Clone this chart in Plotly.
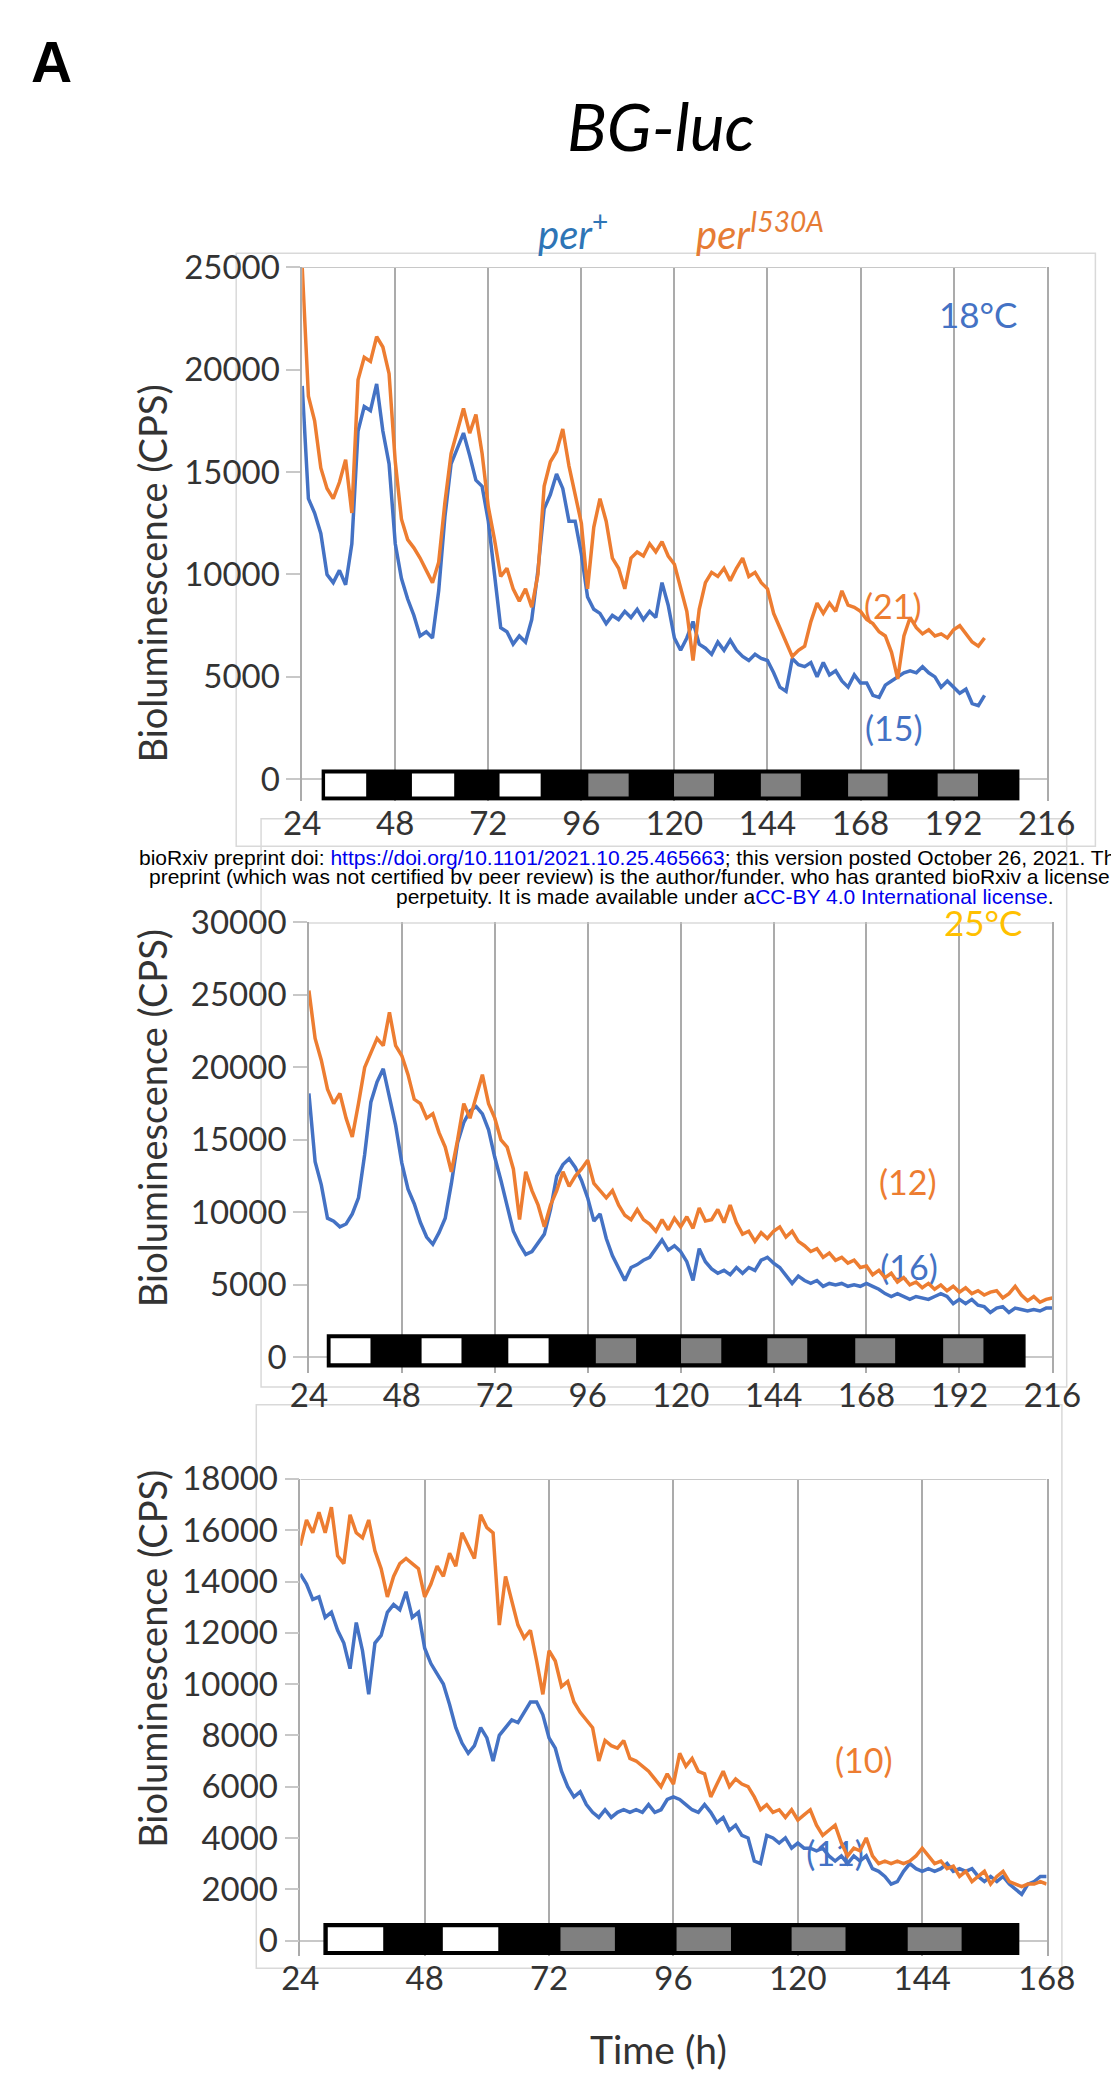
import numpy as np
import plotly.graph_objects as go

W, H = 1111, 2074

# ------------------------------------------------------------------ data
# 18 °C panel (sampled every 1.6 h from 24 h)
t18_start, t18_step = 24.0, 1.6
blue18 = [19200, 13700, 13000, 12000, 10000, 9600, 10200, 9500, 11500, 17000,
          18200, 18000, 19300, 17000, 15400, 11500, 9800, 8800, 8000, 7000,
          7200, 6900, 9200, 12800, 15400, 16200, 16900, 15800, 14600, 14300,
          12600, 10000, 7400, 7200, 6600, 7000, 6700, 7800, 10200, 13200,
          13900, 14900, 14200, 12600, 12600, 11000, 8900, 8300, 8100, 7600,
          8000, 7800, 8200, 7900, 8300, 7800, 8200, 7900, 9600, 8500,
          6900, 6300, 6900, 7700, 6600, 6400, 6100, 6700, 6300, 6800,
          6300, 6000, 5800, 6100, 5900, 5800, 5200, 4500, 4300, 5900,
          5600, 5500, 5700, 5000, 5700, 5100, 5300, 4800, 4500, 5100,
          4700, 4700, 4100, 4000, 4600, 4800, 5000, 5200, 5300, 5200,
          5500, 5200, 5000, 4500, 4800, 4500, 4200, 4400, 3700, 3600,
          4100]
orange18 = [25000, 18700, 17500, 15200, 14200, 13700, 14500, 15600, 13000, 19500,
            20600, 20400, 21600, 21100, 19800, 15500, 12700, 11700, 11300, 10800,
            10200, 9600, 10600, 13500, 15900, 17000, 18100, 16900, 17800, 15900,
            13300, 11700, 9900, 10300, 9300, 8700, 9300, 8400, 10000, 14300,
            15500, 16000, 17100, 15300, 13800, 12500, 9300, 12300, 13700, 12600,
            10800, 10300, 9300, 10800, 11100, 10900, 11500, 11100, 11600, 10900,
            10500, 9300, 8200, 5800, 8300, 9600, 10100, 9900, 10300, 9700,
            10300, 10800, 9900, 10100, 9600, 9300, 8100, 7400, 6700, 6000,
            6300, 6500, 7700, 8600, 8100, 8600, 8200, 9200, 8500, 8400,
            8200, 7800, 7600, 7200, 7000, 6200, 4900, 7000, 7900, 7400,
            7100, 7300, 7000, 7100, 6900, 7300, 7500, 7100, 6700, 6500,
            6900]

# 25 °C panel (sampled every 1.6 h from 24 h)
t25_start, t25_step = 24.0, 1.6
blue25 = [18200, 13500, 11900, 9600, 9400, 9000, 9200, 9900, 11000, 14000,
          17600, 19000, 19900, 18000, 16000, 13400, 11600, 10600, 9300, 8300,
          7800, 8600, 9600, 12000, 14800, 16200, 17000, 17300, 16800, 15700,
          13800, 12200, 10500, 8700, 7800, 7100, 7300, 7900, 8500, 10200,
          12500, 13300, 13700, 13100, 12200, 11000, 9400, 9900, 8200, 7000,
          6200, 5300, 6200, 6400, 6700, 6900, 7500, 8100, 7400, 7700,
          7300, 6600, 5300, 7500, 6600, 6100, 5800, 6000, 5700, 6200,
          5800, 6200, 6000, 6700, 6900, 6500, 6200, 5600, 5100, 5600,
          5300, 5100, 5300, 4900, 5100, 5000, 5100, 4900, 5000, 4900,
          5100, 4900, 4700, 4400, 4200, 4400, 4200, 4000, 4200, 4100,
          4000, 4200, 4400, 4200, 3700, 4000, 3700, 4000, 3600, 3500,
          3100, 3400, 3500, 3100, 3400, 3300, 3200, 3300, 3200, 3400,
          3400]
orange25 = [25300, 22000, 20500, 18500, 17500, 18200, 16500, 15200, 17500, 20000,
            21000, 22000, 21500, 23800, 21500, 20800, 19500, 17800, 17500, 16500,
            16800, 15500, 14500, 12800, 15000, 17500, 16500, 18000, 19500, 17500,
            16500, 15000, 14500, 13000, 9500, 12800, 11500, 10500, 9000, 10500,
            11500, 12800, 11800, 12500, 13000, 13600, 12000, 11500, 11000, 11500,
            10500, 9800, 9500, 10200, 9500, 9200, 8700, 9500, 8800, 9600,
            9000, 9700, 8900, 10300, 9400, 9500, 10200, 9300, 10500, 9300,
            8500, 8700, 8000, 8600, 8200, 8700, 9000, 8300, 8700, 8000,
            7700, 7300, 7500, 6900, 7200, 6700, 6900, 6500, 6700, 6200,
            6300, 5700, 6000, 5500, 5800, 5200, 5500, 5000, 5200, 4800,
            5100, 4700, 5000, 4600, 4900, 4500, 4800, 4400, 4600, 4300,
            4500, 4600, 4100, 4400, 4900, 4300, 3900, 4200, 3800, 4000,
            4100]

# 29 °C panel (sampled every 1.2 h from 24 h)
t29_start, t29_step = 24.0, 1.2
blue29 = [14300, 13900, 13300, 13400, 12600, 12800, 12100, 11600, 10600, 12400,
          11300, 9600, 11600, 11900, 12800, 13100, 12900, 13600, 12600, 12800,
          11400, 10800, 10400, 10000, 9200, 8300, 7700, 7300, 7600, 8300,
          7900, 7000, 8000, 8300, 8600, 8500, 8900, 9300, 9300, 8800,
          7900, 7500, 6600, 6000, 5600, 5800, 5300, 5000, 4800, 5100,
          4800, 5000, 5100, 5000, 5100, 5000, 5300, 5000, 5100, 5500,
          5600, 5500, 5300, 5100, 5000, 5300, 5000, 4600, 4800, 4300,
          4500, 4100, 4000, 3100, 3000, 4100, 4000, 3800, 4000, 3600,
          3800, 3600, 3600, 3500, 3600, 3300, 3100, 3300, 3000, 3300,
          3100, 3300, 2800, 2700, 2500, 2200, 2300, 2700, 3000, 2800,
          2700, 2800, 2700, 2800, 3000, 2700, 2800, 2700, 2800, 2500,
          2300, 2500, 2300, 2500, 2200, 2000, 1800, 2200, 2300, 2500,
          2500]
orange29 = [15400, 16400, 15900, 16700, 15900, 16900, 15000, 14700, 16600, 15900,
            15700, 16400, 15200, 14500, 13400, 14200, 14700, 14900, 14700, 14500,
            13400, 13900, 14600, 14200, 15100, 14600, 15900, 15400, 14900, 16600,
            16100, 15900, 12300, 14200, 13300, 12300, 11800, 12100, 10900, 9600,
            11300, 10900, 9900, 10100, 9300, 8900, 8600, 8300, 7000, 7800,
            7600, 7500, 7800, 7100, 7000, 6800, 6600, 6300, 6000, 6500,
            6100, 7300, 6800, 7100, 6600, 6500, 5600, 6100, 6600, 6000,
            6300, 6100, 6000, 5600, 5100, 5300, 5000, 5100, 4800, 5100,
            4700, 4900, 5100, 4500, 4100, 4300, 4500, 3800, 3300, 3600,
            3500, 4000, 3300, 3000, 3100, 3000, 3100, 3000, 3100, 3300,
            3600, 3300, 3000, 3100, 2800, 2900, 2500, 2700, 2300, 2500,
            2700, 2200, 2500, 2700, 2300, 2200, 2100, 2200, 2200, 2300,
            2200]

# axis ticks
x_ticks_long = [24, 48, 72, 96, 120, 144, 168, 192, 216]
x_ticks_short = [24, 48, 72, 96, 120, 144, 168]
y_ticks18 = [0, 5000, 10000, 15000, 20000, 25000]
y_ticks25 = [0, 5000, 10000, 15000, 20000, 25000, 30000]
y_ticks29 = [0, 2000, 4000, 6000, 8000, 10000, 12000, 14000, 16000, 18000]

# light/dark schedule bars (time in h)
ld18_span = [29.2, 208.8]
ld18_white = [[29.9, 40.5], [52.3, 63.2], [74.9, 85.5]]
ld18_grey = [[97.8, 108.2], [119.9, 130.2], [142.3, 152.6], [164.8, 175.0], [187.9, 198.3]]
ld25_span = [28.8, 208.9]
ld25_white = [[29.6, 39.9], [53.1, 63.4], [75.5, 85.9]]
ld25_grey = [[98.1, 108.5], [120.1, 130.5], [142.4, 152.7], [165.1, 175.4], [187.8, 198.2]]
ld29_span = [28.6, 162.6]
ld29_white = [[29.3, 40.0], [51.5, 62.2]]
ld29_grey = [[74.2, 84.7], [96.6, 107.1], [118.8, 129.2], [141.2, 151.6]]

# ------------------------------------------------------------------ styles
FONT = "Lato, 'Open Sans', sans-serif"
BLUE = "#4472C4"
ORANGE = "#ED7D31"
GRID = "#ababab"
LIGHT = "#c8c8c8"
BOX = "#d9d9d9"
TICKC = "#333333"
LW = 3.5


def px(x):
    return x / W


def py(y):
    return 1 - y / H


panels = [
    dict(xpx=[296, 1074], ypx=[249, 789], xr=[24, 216], yr=[-1050, 25000],
         xt=x_ticks_long, yt=y_ticks18, bar_y=[-1000, 450], inset_px=3.5,
         span=ld18_span, white=ld18_white, grey=ld18_grey),
    dict(xpx=[303, 1080], ypx=[912, 1368], xr=[24, 216], yr=[-1090, 30000],
         xt=x_ticks_long, yt=y_ticks25, bar_y=[-650, 1550], inset_px=3.5,
         span=ld25_span, white=ld25_white, grey=ld25_grey),
    dict(xpx=[294, 1074], ypx=[1475, 1958], xr=[24, 168], yr=[-617, 18000],
         xt=x_ticks_short, yt=y_ticks29, bar_y=[-540, 650], inset_px=3.5,
         span=ld29_span, white=ld29_white, grey=ld29_grey),
]

series = [
    (t18_start, t18_step, blue18, orange18),
    (t25_start, t25_step, blue25, orange25),
    (t29_start, t29_step, blue29, orange29),
]

fig = go.Figure()
layout = dict(width=W, height=H, margin=dict(l=0, r=0, t=0, b=0),
              paper_bgcolor="white", plot_bgcolor="white", showlegend=False)
shapes = []
annotations = []

# labels that sit underneath the curves (drawn first)
under_labels = [(2, 179.0, 5900, "(16)", BLUE), (3, 127.2, 3240, "(11)", BLUE)]
for k, xv, yv, txt, col in under_labels:
    fig.add_trace(go.Scatter(x=[xv], y=[yv], mode="text", text=[txt],
                             textfont=dict(family=FONT, size=34, color=col),
                             xaxis=f"x{k}", yaxis=f"y{k}", hoverinfo="skip"))

for k, (p, (t0, dt, b, o)) in enumerate(zip(panels, series), start=1):
    xs = "" if k == 1 else str(k)
    xa, ya = "xaxis" + xs, "yaxis" + xs
    layout[xa] = dict(domain=[px(p["xpx"][0]), px(p["xpx"][1])], range=p["xr"],
                      anchor="y" + xs, tickmode="array", tickvals=p["xt"],
                      ticktext=[str(v) for v in p["xt"]], showgrid=True,
                      gridcolor=GRID, gridwidth=1.5, ticks="", showline=False,
                      zeroline=False, tickfont=dict(family=FONT, size=33, color=TICKC))
    layout[ya] = dict(domain=[py(p["ypx"][1]), py(p["ypx"][0])], range=p["yr"],
                      anchor="x" + xs, tickmode="array", tickvals=p["yt"],
                      ticktext=[str(v) for v in p["yt"]], showgrid=False,
                      ticks="outside", ticklen=14, tickcolor=LIGHT, tickwidth=1.5,
                      showline=True, mirror=True, linecolor=GRID, linewidth=1.5,
                      zeroline=True, zerolinecolor=LIGHT, zerolinewidth=2,
                      tickfont=dict(family=FONT, size=33, color=TICKC))
    tb = t0 + dt * np.arange(len(b))
    to = t0 + dt * np.arange(len(o))
    fig.add_trace(go.Scatter(x=tb, y=b, mode="lines", line=dict(color=BLUE, width=LW),
                             xaxis="x" + xs, yaxis="y" + xs, hoverinfo="skip"))
    fig.add_trace(go.Scatter(x=to, y=o, mode="lines", line=dict(color=ORANGE, width=LW),
                             xaxis="x" + xs, yaxis="y" + xs, hoverinfo="skip"))
    # top border of plot area
    shapes.append(dict(type="line", xref="x" + xs, yref="y" + xs, x0=p["xr"][0],
                       x1=p["xr"][1], y0=p["yr"][1], y1=p["yr"][1],
                       line=dict(color=LIGHT, width=2), layer="above"))
    # LD bar
    ypp = (p["ypx"][1] - p["ypx"][0]) / (p["yr"][1] - p["yr"][0])
    ins = p["inset_px"] / ypp
    y0b, y1b = p["bar_y"]
    shapes.append(dict(type="rect", xref="x" + xs, yref="y" + xs, x0=p["span"][0],
                       x1=p["span"][1], y0=y0b, y1=y1b, fillcolor="black",
                       line=dict(color="black", width=1.5), layer="above"))
    for seg, fc in [(s, "white") for s in p["white"]] + [(s, "#808080") for s in p["grey"]]:
        shapes.append(dict(type="rect", xref="x" + xs, yref="y" + xs, x0=seg[0],
                           x1=seg[1], y0=y0b + ins, y1=y1b - ins, fillcolor=fc,
                           line=dict(width=0), layer="above"))

# chart-area boxes (paper pixels)
boxes = [(227, 235, 1125, 835), (253, 807, 1095, 1382), (248, 1400, 1090, 1970)]
for x0, y0, x1, y1 in boxes:
    shapes.append(dict(type="rect", xref="paper", yref="paper", x0=px(x0), x1=px(x1),
                       y0=py(y1), y1=py(y0), line=dict(color=BOX, width=1.5),
                       fillcolor="rgba(0,0,0,0)", layer="below"))


def ann_px(text, x, y, size, color="black", family=FONT, xanchor="center", **kw):
    annotations.append(dict(text=text, x=px(x), y=py(y), xref="paper", yref="paper",
                            xanchor=xanchor, yanchor="middle", showarrow=False,
                            font=dict(family=family, size=size, color=color), **kw))


def ann_data(k, text, x, y, size, color):
    xs = "" if k == 1 else str(k)
    annotations.append(dict(text=text, x=x, y=y, xref="x" + xs, yref="y" + xs,
                            showarrow=False, font=dict(family=FONT, size=size, color=color)))


ann_px("<b>A</b>", 34, 41, 57, family="Liberation Sans, Arial, sans-serif")
ann_px("<i>BG-luc</i>", 671, 106, 66)
ann_px("<i>per</i><sup>+</sup>", 540, 212, 40, color="#2E75B6", xanchor="left")
ann_px("<i>per<sup>I530A</sup></i>", 705, 212, 40, color="#E67C35", xanchor="left")

ylab = "Bioluminescence (CPS)"
for yc in (559, 1110, 1657):
    ann_px(ylab, 139, yc, 38, color=TICKC, textangle=-90)
ann_px("Time (h)", 668, 2052, 39, color=TICKC)

ann_data(1, "18°C", 198.5, 22700, 35, BLUE)
ann_data(1, "(21)", 176.4, 8500, 34, ORANGE)
ann_data(1, "(15)", 176.7, 2540, 34, BLUE)
ann_data(2, "(12)", 178.7, 12100, 34, ORANGE)
ann_data(2, "25°C", 198.2, 30000, 35, "#FFC000")
ann_data(3, "29°C", 152.9, 18200, 35, "#E3242B")
ann_data(3, "(10)", 132.8, 7040, 34, ORANGE)

# bioRxiv banner (the first two lines run off the right edge, as in the source)
LINK = "#0000EE"
BF = "Liberation Sans, Arial, sans-serif"
ann_px("bioRxiv preprint doi: <span style='color:%s'>https://doi.org/10.1101/2021.10.25.465663</span>; "
       "this version posted October 26, 2021. Th" % LINK,
       123, 846, 21, family=BF, xanchor="left")
ann_px("preprint (which was not certified by peer review) is the author/funder, who has granted "
       "bioRxiv a license", 134, 866, 21, family=BF, xanchor="left")
ann_px("perpetuity. It is made available under a<span style='color:%s'>CC-BY 4.0 International "
       "license</span>." % LINK, 393, 886, 21, family=BF, xanchor="left", bgcolor="white",
       borderpad=0)

layout["shapes"] = shapes
layout["annotations"] = annotations
fig.update_layout(**layout)
fig.write_html("out.html")
